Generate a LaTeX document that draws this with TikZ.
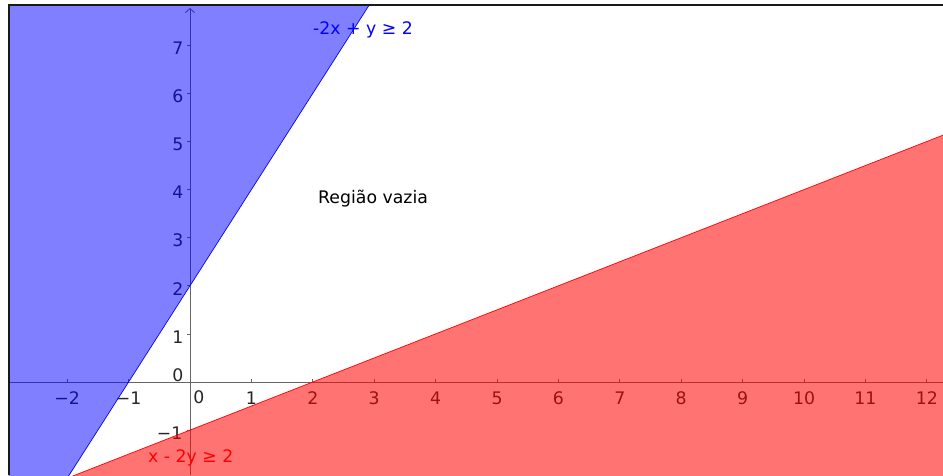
\documentclass[tikz,border=0pt]{standalone}
\usepackage{fontspec}
\setmainfont{DejaVu Sans}
\usepackage{tikz}
\usetikzlibrary{arrows.meta}

\begin{document}
\begin{tikzpicture}[
  x=61.4pt,y=48.1pt,
  font=\fontsize{17.3}{21}\selectfont,
  axis/.style={draw=black!60,line width=0.8pt},
  tickmark/.style={draw=black!60,line width=0.8pt},
  lbl/.style={text=black!85,inner sep=0pt},
  eqn/.style={inner sep=0pt,anchor=base west},
  border/.style={draw=black!90,line width=2pt}
]
\useasboundingbox (-3.0945,-1.9335) rectangle (12.2638,7.9418);

% axes
\coordinate (O) at (0,0);
\draw[axis] (-2.956,0) -- (12.2638,0);
\draw[axis,-{Straight Barb[length=4pt,width=9pt]}] (0,-1.9335) -- (0,7.775);
\foreach \x in {-2,-1,1,2,...,12}
  \draw[tickmark] (\x,0) -- ++(0,3pt);
\foreach \y in {-1,1,2,...,7}
  \draw[tickmark] (0,\y) -- ++(-3pt,0);

% tick labels
\node[lbl] (xlm2) at ([yshift=-16.5pt]-2,0) {−2};
\node[lbl] (xlm1) at ([yshift=-16.5pt]-1,0) {−1};
\foreach \x in {1,...,12}
  \node[lbl] (xl\x) at ([yshift=-16.5pt]\x,0) {\x};
\node[lbl] (xl0) at ([xshift=9pt,yshift=-15pt]O) {0};
\node[lbl] (yl0) at ([xshift=-12pt,yshift=7pt]O) {0};
\node[lbl,anchor=east] (ylm1) at ([xshift=-7.5pt,yshift=-3pt]0,-1) {−1};
\foreach \y in {1,...,7}
  \node[lbl,anchor=east] (yl\y) at ([xshift=-6.5pt,yshift=-3pt]0,\y) {\y};

% half planes
\begin{scope}
  \clip (-2.956,-1.9335) rectangle (12.2638,7.838);
  \fill[blue,fill opacity=0.5] (-4,-3) -- (-2.5,-3) -- (3.5,9) -- (-4,9) -- cycle;
  \draw[blue,line width=0.7pt] (-2.5,-3) -- (3.5,9);
  \fill[red,fill opacity=0.55] (-4,-3) -- (14,6) -- (14,-3) -- cycle;
  \draw[red,line width=0.7pt] (-4,-3) -- (14,6);
\end{scope}
\draw[border] (-2.956,-1.9335) -- (-2.956,7.838) -- (12.2638,7.838);

% labels
\node[eqn,text=blue] (blueeq) at (2.003,7.229) {-2x + y ≥ 2};
\node[eqn,text=red] (redeq) at (-0.684,-1.669) {x - 2y ≥ 2};
\node[eqn] (empty) at (2.085,3.715) {Região vazia};
\end{tikzpicture}
\end{document}
